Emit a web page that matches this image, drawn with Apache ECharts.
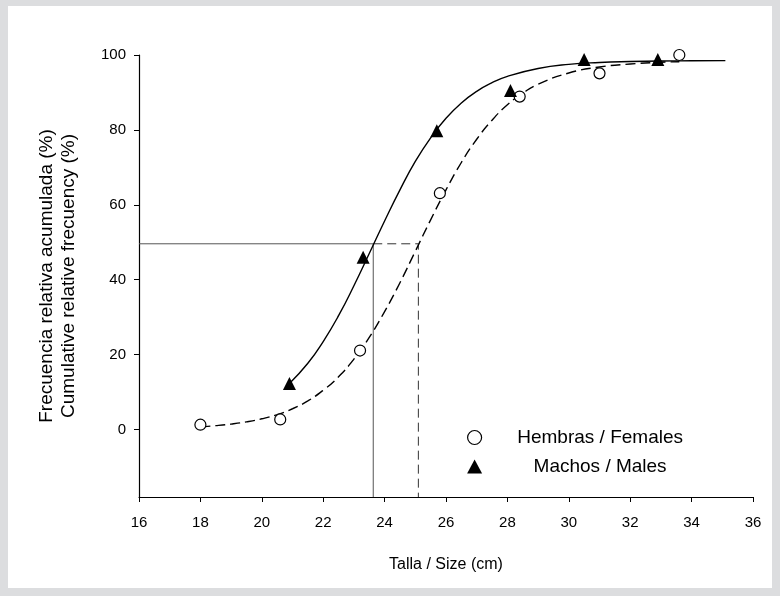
<!DOCTYPE html>
<html>
<head>
<meta charset="utf-8">
<script src="https://cdn.jsdelivr.net/npm/echarts@6/dist/echarts.min.js"></script>
<style>
html,body{margin:0;padding:0;background:#dcdddf;}
#main{width:780px;height:596px;}
</style>
</head>
<body>
<div id="main"></div>
<script>
// Observed points
var femalesX = [18.0, 20.6, 23.2, 25.8, 28.4, 31.0, 33.6];
var femalesY = [1.3, 2.7, 21.1, 63.1, 88.9, 95.1, 100.0];
var malesX = [20.9, 23.3, 25.7, 28.1, 30.5, 32.9, 35.1];
var malesY = [12.3, 46.0, 79.8, 90.5, 98.8, 98.8, 100.3];

// Fitted curves
var maleCurveX = [20.9, 21.5, 22, 22.5, 23, 23.5, 24, 24.5, 25, 25.5, 26, 26.5, 27, 27.5, 28, 29, 30, 31, 32, 33, 34, 35.1];
var maleCurveY = [12.3, 17.7, 23.5, 30.4, 38.4, 47.0, 55.7, 64.0, 71.6, 77.9, 83.1, 87.2, 90.3, 92.6, 94.3, 96.4, 97.5, 98.0, 98.25, 98.4, 98.45, 98.5];
var femaleCurveX = [18, 18.5, 19, 19.5, 20, 20.5, 21, 21.5, 22, 22.5, 23, 23.5, 24, 24.5, 25, 25.5, 26, 26.5, 27, 27.5, 28, 28.5, 29, 30, 31, 32, 33, 33.6];
var femaleCurveY = [0.75, 1.05, 1.47, 2.06, 2.88, 4.0, 5.56, 7.66, 10.5, 14.1, 18.8, 24.6, 31.5, 39.2, 47.6, 56.0, 64.0, 71.3, 77.5, 82.6, 86.7, 89.8, 92.2, 95.2, 96.8, 97.6, 98.07, 98.2];

// L50 reference lines
var l50Level = 49.6;
var maleL50 = 23.63;
var femaleL50 = 25.1;

// Axes
var xMin = 16, xMax = 36, xStep = 2;
var yMin = -18, yMax = 100;
var yTicks = [0, 20, 40, 60, 80, 100];

var seriesNames = ['Hembras / Females', 'Machos / Males'];
var xName = 'Talla / Size (cm)';
var yName = 'Frecuencia relativa acumulada (%)\nCumulative relative frecuency (%)';

function zip(a, b) { return a.map(function (v, i) { return [v, b[i]]; }); }

var chart = echarts.init(document.getElementById('main'), null, {renderer: 'canvas'});
var font = 'Liberation Sans, Arial, sans-serif';

chart.setOption({
  backgroundColor: '#dcdddf',
  animation: false,
  textStyle: {fontFamily: font},
  graphic: [{
    type: 'rect', z: -10, silent: true,
    shape: {x: 8, y: 6, width: 764, height: 582},
    style: {fill: '#ffffff'}
  }],
  grid: {left: 139, right: 27, top: 55, bottom: 99},
  legend: {
    orient: 'vertical',
    left: 462, top: 423,
    itemGap: 10,
    itemWidth: 15, itemHeight: 14,
    data: [
      {name: seriesNames[0], icon: 'circle', itemStyle: {color: '#fff', borderColor: '#000', borderWidth: 1.2, opacity: 1}},
      {name: seriesNames[1], icon: 'triangle', itemStyle: {color: '#000', opacity: 1}}
    ],
    formatter: function (n) { return '{t|' + n + '}'; },
    textStyle: {
      fontFamily: font, fontSize: 19, color: '#000',
      rich: {t: {fontFamily: font, fontSize: 19, color: '#000', width: 226, align: 'center', lineHeight: 21}}
    }
  },
  xAxis: {
    type: 'value', min: xMin, max: xMax, interval: xStep,
    name: xName, nameLocation: 'middle', nameGap: 60,
    nameTextStyle: {fontFamily: font, fontSize: 16, color: '#000'},
    axisLine: {show: true, onZero: false, lineStyle: {color: '#000', width: 1.2}},
    axisTick: {show: true, length: 5, inside: false, lineStyle: {color: '#000'}},
    axisLabel: {color: '#000', fontSize: 15, fontFamily: font, margin: 18},
    splitLine: {show: false}
  },
  yAxis: {
    type: 'value', min: yMin, max: yMax,
    name: yName, nameLocation: 'middle', nameGap: 59,
    nameTextStyle: {fontFamily: font, fontSize: 19, color: '#000', lineHeight: 22},
    axisLine: {show: true, onZero: false, lineStyle: {color: '#000', width: 1.2}},
    axisTick: {show: true, length: 5, customValues: yTicks, lineStyle: {color: '#000'}},
    axisLabel: {color: '#000', fontSize: 15, fontFamily: font, margin: 13, customValues: yTicks},
    splitLine: {show: false}
  },
  series: [
    {
      name: 'maleL50', type: 'line', symbol: 'none', silent: true,
      data: [[xMin, l50Level], [maleL50, l50Level], [maleL50, yMin]],
      lineStyle: {color: '#555', width: 1}, z: 1
    },
    {
      name: 'femaleL50', type: 'line', symbol: 'none', silent: true,
      data: [[maleL50, l50Level], [femaleL50, l50Level], [femaleL50, yMin]],
      lineStyle: {color: '#333', width: 1, type: [9, 5]}, z: 1
    },
    {
      name: 'maleCurve', type: 'line', symbol: 'none', smooth: true, silent: true,
      data: zip(maleCurveX, maleCurveY),
      lineStyle: {color: '#000', width: 1.4}, z: 2
    },
    {
      name: 'femaleCurve', type: 'line', symbol: 'none', smooth: true, silent: true,
      data: zip(femaleCurveX, femaleCurveY),
      lineStyle: {color: '#000', width: 1.4, type: [10, 5]}, z: 2
    },
    {
      name: seriesNames[0], type: 'scatter', symbol: 'circle', symbolSize: 11,
      data: zip(femalesX, femalesY),
      itemStyle: {color: '#fff', borderColor: '#000', borderWidth: 1.2, opacity: 1}, z: 3
    },
    {
      name: seriesNames[1], type: 'scatter', symbol: 'triangle', symbolSize: 13,
      data: zip(malesX, malesY),
      itemStyle: {color: '#000', opacity: 1}, z: 3
    }
  ]
});
</script>
</body>
</html>
